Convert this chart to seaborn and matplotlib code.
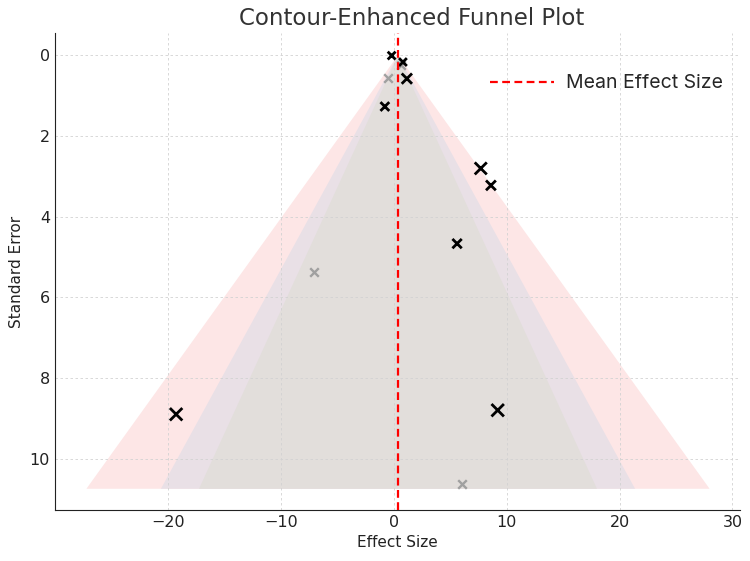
import numpy as np
import pandas as pd
import seaborn as sns
import matplotlib.pyplot as plt

# studies (black) and faded studies (gray)
effect = [-0.2, 0.8, 1.15, -0.8, 7.7, 8.6, 5.6, -19.3, 9.2]
se = [0.02, 0.18, 0.59, 1.28, 2.81, 3.23, 4.67, 8.89, 8.79]
msize = [32, 32, 55, 40, 75, 50, 45, 80, 80]

effect_gray = [-0.5, 0.6, -7.1, 6.0]
se_gray = [0.57, 0.25, 5.36, 10.62]

mean_effect = 0.32
se_max = 10.72
z_levels = [2.576, 1.96, 1.645]
fill_colors = ['#fde6e6', '#e9e0e6', '#e2dedb']
x_ticks = [-20, -10, 0, 10, 20, 30]

sns.set_style("white")
fig, ax = plt.subplots(figsize=(7.5, 5.61), dpi=100)
fig.subplots_adjust(left=0.073, right=0.987, bottom=0.091, top=0.941)

se_grid = np.linspace(0, se_max, 100)
for z, c in zip(z_levels, fill_colors):
    ax.fill_betweenx(se_grid, mean_effect - z * se_grid, mean_effect + z * se_grid,
                     color=c, linewidth=0, zorder=0.3)

df = pd.DataFrame({'effect': effect, 'se': se})
dfg = pd.DataFrame({'effect': effect_gray, 'se': se_gray})
sns.scatterplot(data=dfg, x='effect', y='se', marker='x', s=38, color='#a0a0a0',
                edgecolor='#a0a0a0', linewidth=1.7, ax=ax, zorder=3)
sns.scatterplot(data=df, x='effect', y='se', marker='x', s=msize, color='black',
                edgecolor='black', linewidth=2, ax=ax, zorder=4)

ax.axvline(mean_effect, color='red', linestyle=(0, (3.5, 2)), linewidth=1.6,
           label='Mean Effect Size', zorder=5)

ax.invert_yaxis()
ax.set_xticks(x_ticks)
ax.grid(True, linestyle=(0, (3, 3)), color='#d2d2d2', linewidth=0.6)
ax.set_axisbelow(True)
for s in ['top', 'right']:
    ax.spines[s].set_visible(False)
for s in ['left', 'bottom']:
    ax.spines[s].set_color('#222222')
ax.tick_params(axis='x', direction='in', labelsize=11.5, colors='#222222', length=4)
ax.tick_params(axis='y', direction='in', labelsize=11.5, colors='#222222', length=0)

ax.set_title('Contour-Enhanced Funnel Plot', fontsize=16.5, color='#333333', x=0.52)
ax.set_xlabel('Effect Size', fontsize=11, color='#222222')
ax.set_ylabel('Standard Error', fontsize=11, color='#222222')
ax.legend(loc='upper right', frameon=False, handlelength=3.3, handletextpad=0.6,
          prop={'family': 'Inter', 'size': 14}, bbox_to_anchor=(1.0, 0.95))

fig.savefig('out.png', dpi=100)
